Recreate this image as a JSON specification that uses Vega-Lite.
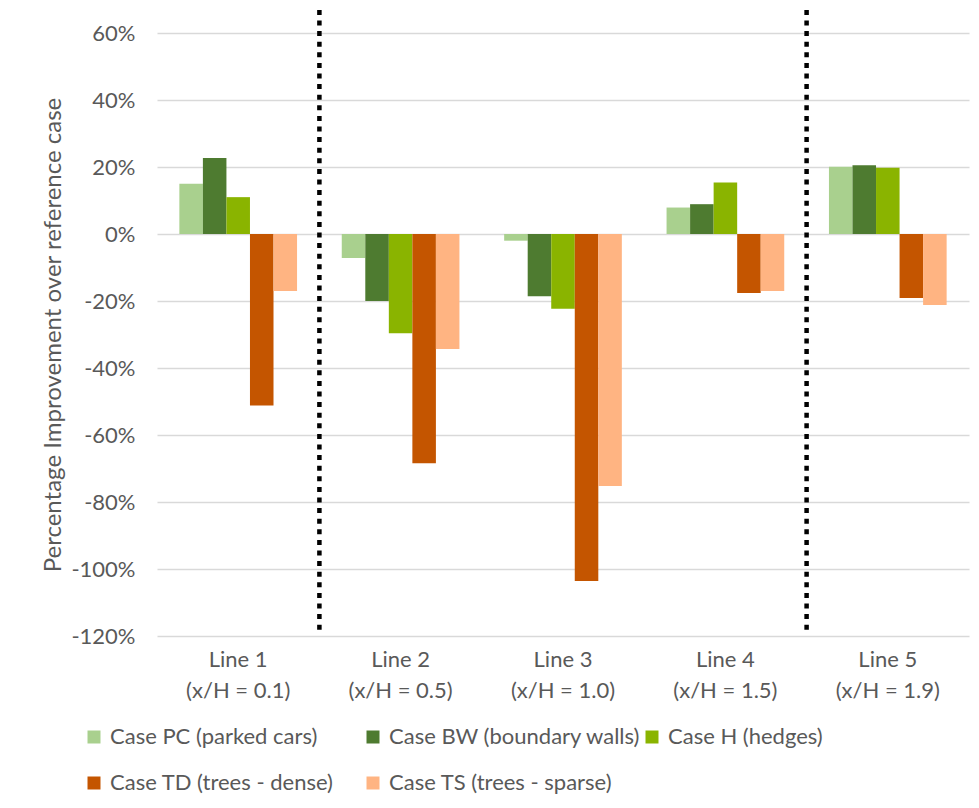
{
  "$schema": "https://vega.github.io/schema/vega-lite/v6.json",
  "width": 812,
  "height": 603,
  "autosize": {"type": "none"},
  "padding": {"left": 157, "top": 33, "right": 10, "bottom": 172},
  "background": "white",
  "config": {"view": {"stroke": null}, "font": "Lato"},
  "layer": [
    {
      "data": {
        "values": [
          {"line": "Line 1 (x/H = 0.1)", "case": "Case PC (parked cars)", "value": 0.15},
          {"line": "Line 1 (x/H = 0.1)", "case": "Case BW (boundary walls)", "value": 0.227},
          {"line": "Line 1 (x/H = 0.1)", "case": "Case H (hedges)", "value": 0.11},
          {"line": "Line 1 (x/H = 0.1)", "case": "Case TD (trees - dense)", "value": -0.512},
          {"line": "Line 1 (x/H = 0.1)", "case": "Case TS (trees - sparse)", "value": -0.17},
          {"line": "Line 2 (x/H = 0.5)", "case": "Case PC (parked cars)", "value": -0.072},
          {"line": "Line 2 (x/H = 0.5)", "case": "Case BW (boundary walls)", "value": -0.2},
          {"line": "Line 2 (x/H = 0.5)", "case": "Case H (hedges)", "value": -0.296},
          {"line": "Line 2 (x/H = 0.5)", "case": "Case TD (trees - dense)", "value": -0.684},
          {"line": "Line 2 (x/H = 0.5)", "case": "Case TS (trees - sparse)", "value": -0.343},
          {"line": "Line 3 (x/H = 1.0)", "case": "Case PC (parked cars)", "value": -0.02},
          {"line": "Line 3 (x/H = 1.0)", "case": "Case BW (boundary walls)", "value": -0.186},
          {"line": "Line 3 (x/H = 1.0)", "case": "Case H (hedges)", "value": -0.223},
          {"line": "Line 3 (x/H = 1.0)", "case": "Case TD (trees - dense)", "value": -1.036},
          {"line": "Line 3 (x/H = 1.0)", "case": "Case TS (trees - sparse)", "value": -0.752},
          {"line": "Line 4 (x/H = 1.5)", "case": "Case PC (parked cars)", "value": 0.079},
          {"line": "Line 4 (x/H = 1.5)", "case": "Case BW (boundary walls)", "value": 0.089},
          {"line": "Line 4 (x/H = 1.5)", "case": "Case H (hedges)", "value": 0.154},
          {"line": "Line 4 (x/H = 1.5)", "case": "Case TD (trees - dense)", "value": -0.176},
          {"line": "Line 4 (x/H = 1.5)", "case": "Case TS (trees - sparse)", "value": -0.17},
          {"line": "Line 5 (x/H = 1.9)", "case": "Case PC (parked cars)", "value": 0.201},
          {"line": "Line 5 (x/H = 1.9)", "case": "Case BW (boundary walls)", "value": 0.205},
          {"line": "Line 5 (x/H = 1.9)", "case": "Case H (hedges)", "value": 0.198},
          {"line": "Line 5 (x/H = 1.9)", "case": "Case TD (trees - dense)", "value": -0.191},
          {"line": "Line 5 (x/H = 1.9)", "case": "Case TS (trees - sparse)", "value": -0.212}
        ]
      },
      "mark": {"type": "bar"},
      "encoding": {
        "x": {
          "field": "line",
          "type": "nominal",
          "sort": null,
          "scale": {"paddingInner": 0, "paddingOuter": 0},
          "axis": {
            "title": null,
            "labelExpr": "[slice(datum.label, 0, 6), slice(datum.label, 7)]",
            "labelFontSize": 22,
            "labelColor": "#595959",
            "labelLineHeight": 31,
            "labelPadding": 13,
            "labelAngle": 0,
            "domain": false,
            "ticks": false,
            "grid": false
          }
        },
        "xOffset": {
          "field": "case",
          "type": "nominal",
          "sort": ["Case PC (parked cars)", "Case BW (boundary walls)", "Case H (hedges)", "Case TD (trees - dense)", "Case TS (trees - sparse)"],
          "scale": {"paddingInner": 0, "paddingOuter": 0.95}
        },
        "y": {
          "field": "value",
          "type": "quantitative",
          "scale": {"domain": [-1.2, 0.6], "nice": false, "zero": false},
          "axis": {
            "title": "Percentage Improvement over reference case",
            "values": [-1.2, -1.0, -0.8, -0.6, -0.4, -0.2, 0, 0.2, 0.4, 0.6],
            "labelExpr": "(datum.value < 0 ? '-' : '') + format(abs(datum.value) * 100, '.0f') + '%'",
            "labelFontSize": 22,
            "labelColor": "#595959",
            "labelPadding": 22,
            "domain": false,
            "ticks": false,
            "grid": true,
            "gridColor": "#d9d9d9",
            "gridWidth": 1.3,
            "titleFontSize": 24,
            "titleFontWeight": "normal",
            "titleColor": "#595959",
            "titleX": -104,
            "titleY": 301.5,
            "titleAlign": "center",
            "titleBaseline": "middle",
            "titleAngle": -90
          }
        },
        "color": {
          "field": "case",
          "type": "nominal",
          "scale": {
            "domain": ["Case PC (parked cars)", "Case BW (boundary walls)", "Case H (hedges)", "Case TD (trees - dense)", "Case TS (trees - sparse)"],
            "range": ["#A9D08E", "#4E7B30", "#8AB400", "#C45500", "#FFB482"]
          },
          "legend": {
            "title": null,
            "orient": "none",
            "legendX": -74,
            "legendY": 693,
            "direction": "horizontal",
            "columns": 3,
            "gridAlign": "all",
            "symbolType": "square",
            "symbolSize": 169,
            "symbolStrokeWidth": 0,
            "labelFontSize": 22,
            "labelColor": "#595959",
            "labelOffset": 5,
            "labelLimit": 400,
            "columnPadding": -5,
            "rowPadding": 24
          }
        }
      }
    },
    {
      "data": {"values": [{"line": "Line 2 (x/H = 0.5)"}, {"line": "Line 5 (x/H = 1.9)"}]},
      "mark": {"type": "rule", "color": "black", "strokeWidth": 4.5, "strokeDash": [5, 5.6]},
      "encoding": {
        "x": {"field": "line", "type": "nominal", "sort": null, "bandPosition": 0},
        "y": {"datum": 0.669},
        "y2": {"datum": -1.188}
      }
    }
  ]
}
